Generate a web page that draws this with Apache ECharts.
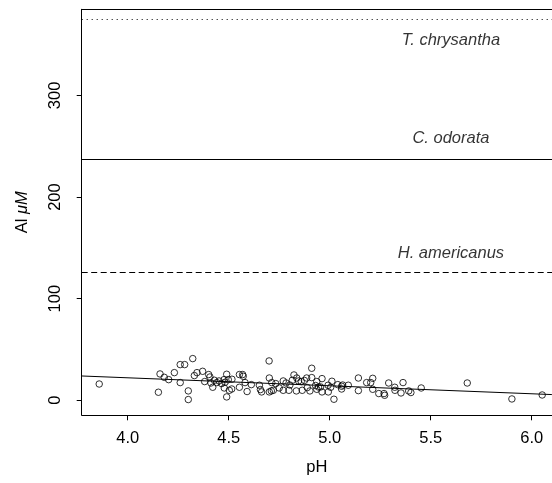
<!DOCTYPE html>
<html>
<head>
<meta charset="utf-8">
<script src="https://cdn.jsdelivr.net/npm/echarts@6/dist/echarts.min.js"></script>
<style>
html,body{margin:0;padding:0;background:#fff;}
#chart{width:552px;height:483px;}
</style>
</head>
<body>
<div id="chart"></div>
<script>
// ---- data ----
const phValues = [
  3.859, 4.152, 4.160, 4.181, 4.203, 4.231, 4.260, 4.282, 4.322, 4.260,
  4.300, 4.300, 4.330, 4.343, 4.371, 4.381, 4.401, 4.407, 4.421, 4.412,
  4.429, 4.441, 4.452, 4.465, 4.477, 4.482, 4.490, 4.498, 4.478, 4.503,
  4.490, 4.515, 4.516, 4.553, 4.569, 4.572, 4.553, 4.581, 4.591, 4.612,
  4.652, 4.657, 4.663, 4.700, 4.701, 4.713, 4.701, 4.711, 4.721, 4.733,
  4.750, 4.770, 4.770, 4.784, 4.798, 4.803, 4.815, 4.823, 4.837, 4.846,
  4.835, 4.859, 4.864, 4.886, 4.889, 4.902, 4.911, 4.911, 4.936, 4.936,
  4.875, 4.930, 4.945,
  4.962, 4.955, 4.962, 4.992, 4.993, 5.011, 5.005, 5.021, 5.040, 5.059,
  5.064, 5.059, 5.092, 5.142, 5.142, 5.183, 5.203, 5.213, 5.213, 5.243,
  5.269, 5.272, 5.292, 5.322, 5.323, 5.353, 5.363, 5.391, 5.402, 5.453,
  5.681, 5.902, 6.052
];
const alValues = [
  16.0, 7.9, 25.9, 22.6, 20.3, 27.2, 35.1, 35.1, 41.0, 17.4,
  9.2, 0.7, 24.3, 27.2, 28.5, 18.4, 25.3, 22.9, 12.8, 17.0,
  19.7, 17.4, 19.0, 16.4, 20.3, 17.7, 25.6, 20.3, 12.1, 9.8,
  3.3, 11.1, 20.7, 25.3, 25.3, 23.6, 12.8, 17.4, 8.6, 15.4,
  14.8, 10.5, 8.2, 38.7, 21.9, 17.4, 8.2, 9.2, 9.8, 16.4,
  12.1, 19.0, 9.8, 17.0, 9.8, 15.0, 19.7, 24.9, 21.9, 19.0,
  9.2, 18.4, 9.8, 21.9, 12.5, 9.2, 31.5, 22.3, 10.8, 18.4,
  19.5, 14.5, 13.0,
  21.3, 13.1, 8.2, 14.8, 8.2, 18.7, 12.8, 1.0, 15.4, 13.8,
  15.0, 11.1, 14.8, 21.9, 9.5, 17.4, 17.4, 21.6, 10.8, 6.6,
  6.6, 4.9, 17.0, 12.8, 9.8, 7.2, 17.4, 9.2, 7.6, 12.1,
  17.0, 1.3, 5.2
];
// fitted regression line (end points at the visible plot edges)
const fitPh = [3.772, 6.1];
const fitAl = [23.9, 5.6];
// species thresholds
const speciesNames = ['T. chrysantha', 'C. odorata', 'H. americanus'];
const speciesAl = [375, 237, 126];
const speciesLabelPh = [5.6, 5.6, 5.6];
const speciesLabelAl = [354, 258, 144.6];
// ticks
const xTicks = [4.0, 4.5, 5.0, 5.5, 6.0];
const yTicks = [0, 100, 200, 300];

const FONT = 'Liberation Sans, Arial, Helvetica, sans-serif';
const FS = 16.5;
const X_MIN = 3.7723, X_MAX = 6.1005, Y_MIN = -14.8, Y_MAX = 384.8;

const chart = echarts.init(document.getElementById('chart'), null, {renderer: 'canvas'});

const dashes = [[1, 4], null, [6, 3.5]];

const markLineData = speciesAl.map((v, i) => ({
  yAxis: v,
  lineStyle: {
    type: dashes[i] ? dashes[i] : 'solid',
    color: '#000',
    width: 1
  }
}));

const option = {
  animation: false,
  backgroundColor: '#fff',
  grid: {
    left: 81.7,
    top: 9.3,
    right: 0,
    bottom: 67.7,
    show: false
  },
  xAxis: [
    {
      // tick marks only
      type: 'value',
      position: 'bottom',
      min: X_MIN,
      max: X_MAX,
      axisLine: {show: false, onZero: false, lineStyle: {color: '#000'}},
      splitLine: {show: false},
      axisTick: {show: true, length: 5, customValues: xTicks},
      axisLabel: {show: false}
    },
    {
      // top frame line
      type: 'value',
      position: 'top',
      min: X_MIN,
      max: X_MAX,
      axisLine: {show: true, onZero: false, lineStyle: {color: '#000', width: 1}},
      splitLine: {show: false},
      axisTick: {show: false},
      axisLabel: {show: false}
    },
    {
      // tick labels and title
      type: 'value',
      position: 'bottom',
      min: X_MIN,
      max: X_MAX,
      name: 'pH',
      nameLocation: 'middle',
      nameGap: 44,
      nameTextStyle: {fontFamily: FONT, fontSize: FS, color: '#000'},
      axisLine: {show: false, onZero: false},
      splitLine: {show: false},
      axisTick: {show: false},
      axisLabel: {
        show: true, customValues: xTicks, margin: 15,
        fontFamily: FONT, fontSize: FS, color: '#000',
        formatter: v => Number(v).toFixed(1)
      }
    }
  ],
  yAxis: {
    type: 'value',
    min: Y_MIN,
    max: Y_MAX,
    name: 'Al {i|μM}',
    nameLocation: 'middle',
    nameRotate: 90,
    nameGap: 51,
    nameTextStyle: {
      fontFamily: FONT, fontSize: FS, color: '#000',
      rich: {i: {fontFamily: FONT, fontSize: FS, fontStyle: 'italic', color: '#000'}}
    },
    axisLine: {show: true, onZero: false, lineStyle: {color: '#000', width: 1}},
    splitLine: {show: false},
    axisTick: {show: true, length: 5, customValues: yTicks},
    axisLabel: {
      show: true, customValues: yTicks, rotate: 90, margin: 18,
      fontFamily: FONT, fontSize: FS, color: '#000'
    }
  },
  series: [
    {
      type: 'scatter',
      data: phValues.map((x, i) => [x, alValues[i]]),
      symbol: 'circle',
      symbolSize: 6.5,
      itemStyle: {color: 'rgba(0,0,0,0)', borderColor: '#000', borderWidth: 1},
      silent: true,
      clip: false,
      z: 3,
      markLine: {
        silent: true,
        symbol: ['none', 'none'],
        label: {show: false},
        data: [{yAxis: Y_MIN, lineStyle: {type: 'solid', color: '#000', width: 1}}]
      }
    },
    {
      type: 'line',
      data: fitPh.map((x, i) => [x, fitAl[i]]),
      symbol: 'none',
      lineStyle: {color: '#000', width: 1},
      silent: true,
      z: 2,
      markLine: {
        silent: true,
        symbol: ['none', 'none'],
        label: {show: false},
        data: markLineData
      }
    },
    {
      type: 'scatter',
      data: speciesNames.map((n, i) => ({name: n, value: [speciesLabelPh[i], speciesLabelAl[i]]})),
      symbolSize: 0,
      silent: true,
      label: {
        show: true,
        position: 'inside',
        formatter: p => p.name,
        fontFamily: FONT,
        fontSize: FS,
        fontStyle: 'italic',
        color: '#000'
      }
    }
  ]
};
chart.setOption(option);
</script>
</body>
</html>
